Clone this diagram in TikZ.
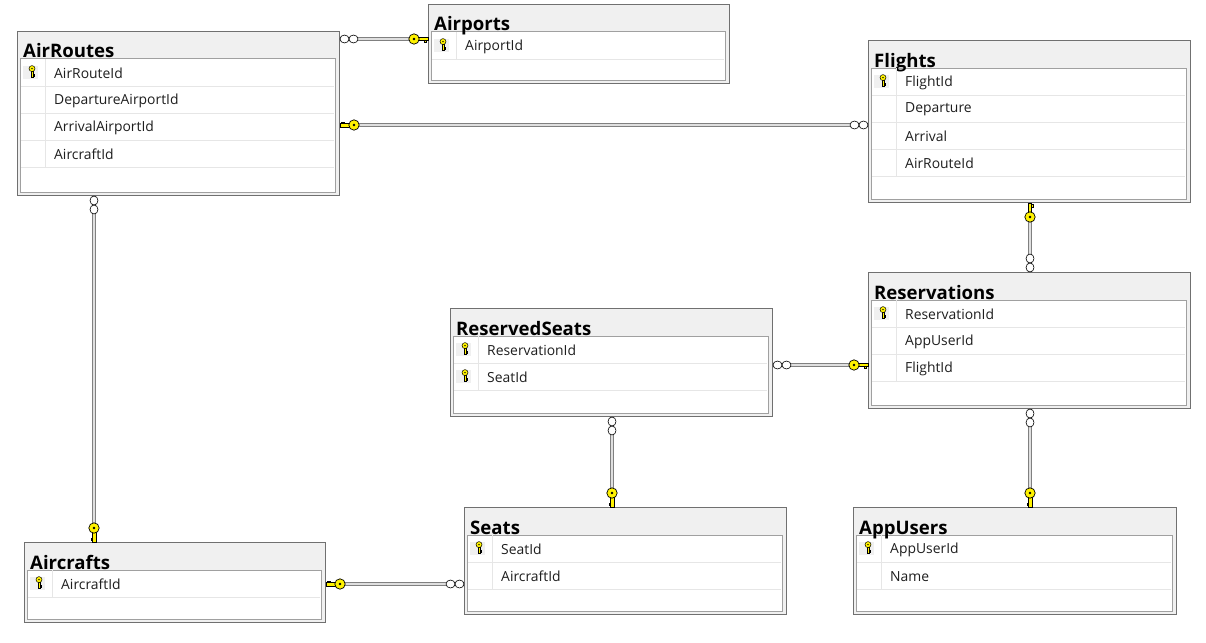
\documentclass[tikz,border=0pt]{standalone}
\usepackage{fontspec}
\setmainfont{Open Sans}
\usetikzlibrary{calc,positioning}

\definecolor{barfill}{HTML}{F0F0F0}
\definecolor{frame}{HTML}{707070}
\definecolor{panel}{HTML}{A0A0A0}
\definecolor{sep}{HTML}{E6E6E6}
\definecolor{keyyellow}{HTML}{FFF200}
\definecolor{fieldtext}{HTML}{1E1E1E}

\tikzset{
	tbl/.style={draw=frame, fill=barfill, line width=1pt, anchor=north west, inner sep=0pt},
	panelbox/.style={draw=panel, fill=white, line width=1pt},
	rowsep/.style={draw=sep, line width=0.8pt},
	title/.style={anchor=base west, inner sep=0pt, font=\fontsize{18.6}{20}\selectfont\bfseries},
	field/.style={anchor=west, inner sep=0pt, font=\fontsize{13.9}{15}\selectfont, text=fieldtext},
	link/.style={draw=gray, double=gray!25, line width=0.8pt, double distance=1.6pt},
	keyend/.pic={
		\draw[black, fill=keyyellow, line width=0.6pt] (-9.5,-2) rectangle (0,1.5);
		\draw[black, fill=keyyellow, line width=0.6pt] (-4,1.5) rectangle (-1.5,3.2);
		\draw[black, fill=keyyellow, line width=0.7pt] (-14,0) circle (5.2);
		\fill[black] (-14,0) circle (1.3);
	},
	manyend/.pic={
		\draw[black, fill=white, line width=0.6pt] (-4.5,0) ellipse (4.5 and 4) (-13.5,0) ellipse (4.5 and 4);
	},
	pkicon/.pic={
		\draw[black, fill=keyyellow, line width=0.5pt] (-1.2,0) rectangle (1.2,6);
		\draw[black, fill=keyyellow, line width=0.5pt] (1.2,3) rectangle (2.6,5);
		\draw[black, fill=keyyellow, line width=0.5pt] (0,-2.4) circle (3);
		\fill[black] (0,-2.4) circle (0.8);
	}
}

% one table: name, width, height, title, rows (pk/field)
\newcommand{\dbtable}[5]{%
	\node[tbl, minimum width=#2, minimum height=#3] (#1) at (0,0) {};
	\draw[panelbox] (3,28) rectangle (#2-4,#3-3);
	\node[title] (#1-title) at (6,27) {#4};
	\foreach \pk/\fname [count=\i from 0] in {#5} {
		\draw[rowsep] (4,{28+27*(\i+1)}) -- (#2-5,{28+27*(\i+1)});
		\draw[rowsep] (28,{28+27*\i}) -- (28,{28+27*(\i+1)});
		\ifnum\pk=1
			\fill[barfill] (6,{28+27*\i+7}) rectangle (21,{28+27*\i+20});
			\pic at (15,{28+27*\i+12}) {pkicon};
		\fi
		\node[field] (#1-\i) at (37,{28+27*\i+14.5}) {\fname};
	}
}

\begin{document}
\begin{tikzpicture}[x=1pt, y=-1pt]
	
	\fill[white] (0,0) rectangle (1206,642);
	\useasboundingbox (0,0) rectangle (1206,642);
	
	% tables
	\begin{scope}[shift={(17,31)}]
		\dbtable{airroutes}{322}{164}{AirRoutes}{1/AirRouteId, 0/DepartureAirportId, 0/ArrivalAirportId, 0/AircraftId}
	\end{scope}
	
	\begin{scope}[shift={(428,4)}]
		\dbtable{airports}{301}{79}{Airports}{1/AirportId}
	\end{scope}
	
	\begin{scope}[shift={(868,40)}]
		\dbtable{flights}{322}{162}{Flights}{1/FlightId, 0/Departure, 0/Arrival, 0/AirRouteId}
	\end{scope}
	
	\begin{scope}[shift={(868,272)}]
		\dbtable{reservations}{322}{136}{Reservations}{1/ReservationId, 0/AppUserId, 0/FlightId}
	\end{scope}
	
	\begin{scope}[shift={(450,308)}]
		\dbtable{reservedseats}{322}{108}{ReservedSeats}{1/ReservationId, 1/SeatId}
	\end{scope}
	
	\begin{scope}[shift={(464,507)}]
		\dbtable{seats}{322}{107}{Seats}{1/SeatId, 0/AircraftId}
	\end{scope}
	
	\begin{scope}[shift={(24,542)}]
		\dbtable{aircrafts}{301}{80}{Aircrafts}{1/AircraftId}
	\end{scope}
	
	\begin{scope}[shift={(853,507)}]
		\dbtable{appusers}{323}{107}{AppUsers}{1/AppUserId, 0/Name}
	\end{scope}
	
	% relations
	\draw[link] (airroutes.east |- 0,39) -- (airports.west |- 0,39);
	\pic[rotate=180] at (airroutes.east |- 0,39) {manyend};
	\pic at (airports.west |- 0,39) {keyend};
	
	\draw[link] (airroutes.east |- 0,125) -- (flights.west |- 0,125);
	\pic[rotate=180] at (airroutes.east |- 0,125) {keyend};
	\pic at (flights.west |- 0,125) {manyend};
	
	\draw[link] (airroutes.south -| 94,0) -- (aircrafts.north -| 94,0);
	\pic[rotate=90] at (airroutes.south -| 94,0) {manyend};
	\pic[rotate=-90] at (aircrafts.north -| 94,0) {keyend};
	
	\draw[link] (flights.south -| 1030,0) -- (reservations.north -| 1030,0);
	\pic[rotate=90] at (flights.south -| 1030,0) {keyend};
	\pic[rotate=-90] at (reservations.north -| 1030,0) {manyend};
	
	\draw[link] (reservedseats.east |- 0,365) -- (reservations.west |- 0,365);
	\pic[rotate=180] at (reservedseats.east |- 0,365) {manyend};
	\pic at (reservations.west |- 0,365) {keyend};
	
	\draw[link] (reservedseats.south -| 612,0) -- (seats.north -| 612,0);
	\pic[rotate=90] at (reservedseats.south -| 612,0) {manyend};
	\pic[rotate=-90] at (seats.north -| 612,0) {keyend};
	
	\draw[link] (reservations.south -| 1030,0) -- (appusers.north -| 1030,0);
	\pic[rotate=90] at (reservations.south -| 1030,0) {manyend};
	\pic[rotate=-90] at (appusers.north -| 1030,0) {keyend};
	
	\draw[link] (aircrafts.east |- 0,584) -- (seats.west |- 0,584);
	\pic[rotate=180] at (aircrafts.east |- 0,584) {keyend};
	\pic at (seats.west |- 0,584) {manyend};
	
\end{tikzpicture}
\end{document}
